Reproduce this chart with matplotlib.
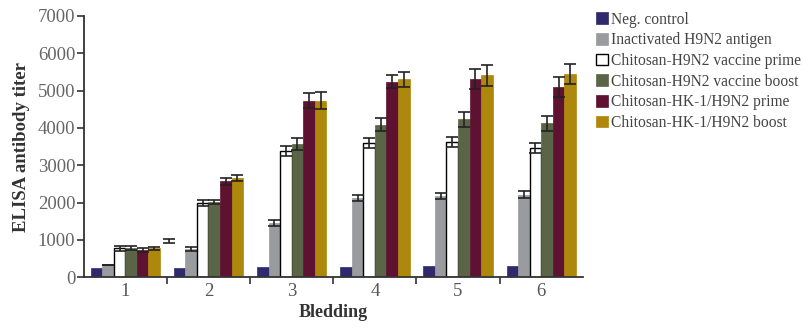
import numpy as np
import matplotlib
matplotlib.use('Agg')
import matplotlib.pyplot as plt

plt.rcParams['font.family'] = ['Liberation Serif', 'DejaVu Serif']

bleedings = ['1', '2', '3', '4', '5', '6']
groups = ['Neg. control', 'Inactivated H9N2 antigen', 'Chitosan-H9N2 vaccine prime',
          'Chitosan-H9N2 vaccine boost', 'Chitosan-HK-1/H9N2 prime', 'Chitosan-HK-1/H9N2 boost']

neg = [260, 240, 285, 285, 305, 305]
inact = [340, 760, 1450, 2130, 2175, 2210]
cs_prime = [770, 1990, 3385, 3600, 3625, 3465]
cs_boost = [780, 2015, 3565, 4090, 4235, 4120]
hk_prime = [735, 2570, 4730, 5240, 5300, 5085]
hk_boost = [770, 2670, 4730, 5300, 5410, 5445]

inact_err = [0, 50, 80, 80, 80, 90]
cs_prime_err = [70, 80, 130, 130, 140, 130]
cs_boost_err = [60, 50, 160, 180, 200, 190]
hk_prime_err = [60, 100, 200, 180, 270, 270]
hk_boost_err = [40, 80, 220, 200, 280, 280]

# stray error bar left of bleeding 2 in the original figure
stray_val = 975
stray_err = 50

values = [neg, inact, cs_prime, cs_boost, hk_prime, hk_boost]
errors = [None, inact_err, cs_prime_err, cs_boost_err, hk_prime_err, hk_boost_err]
colors = ['#2f2a6e', '#9a9b9f', 'white', '#5a6447', '#5e1131', '#ad880c']
edges = ['#2f2a6e', '#9a9b9f', 'black', '#5a6447', '#5e1131', '#ad880c']

fig = plt.figure(figsize=(8.05, 3.32), dpi=100)
ax = fig.add_axes([0.104, 0.165, 0.62, 0.787])

x = np.arange(len(bleedings))
w = 0.139
for i in range(6):
    pos = x + (i - 2.5) * w
    ax.bar(pos, values[i], width=w, color=colors[i], edgecolor=edges[i],
           linewidth=1.0 if i == 2 else 0.5, label=groups[i], zorder=2)
    if errors[i] is not None:
        ax.errorbar(pos, values[i], yerr=errors[i], fmt='none', ecolor='#222222',
                    elinewidth=1.2, capsize=4.5, capthick=1.2, zorder=3)

ax.errorbar([x[1] - 3.4 * w], [stray_val], yerr=[stray_err], fmt='none', ecolor='#222222',
            elinewidth=1.2, capsize=4.5, capthick=1.2, zorder=3)

ax.set_xlim(-0.5, 5.5)
ax.set_ylim(0, 7000)
ax.set_yticks(range(0, 7001, 1000))
ax.set_xticks(x)
ax.set_xticklabels(bleedings)
ax.set_xticks(np.arange(0.5, 5.5, 1), minor=True)
ax.tick_params(axis='x', which='major', length=0, pad=4, labelsize=13.5, labelcolor='#555555')
ax.tick_params(axis='x', which='minor', length=5, width=1.2, color='#333333')
ax.tick_params(axis='y', length=5, width=1.2, color='#333333', labelsize=13.5, labelcolor='#666666', pad=1)

for s in ['top', 'right']:
    ax.spines[s].set_visible(False)
for s in ['left', 'bottom']:
    ax.spines[s].set_linewidth(1.3)
    ax.spines[s].set_color('#333333')

ax.set_ylabel('ELISA antibody titer', fontsize=13.5, fontweight='bold', color='#333333', labelpad=6)
ax.set_xlabel('Bledding', fontsize=13, fontweight='bold', color='#333333', labelpad=3)

leg = fig.legend(loc='upper left', bbox_to_anchor=(0.733, 0.984), frameon=False,
                 fontsize=11.2, handlelength=0.78, handleheight=0.78, handletextpad=0.15,
                 labelspacing=0.3, borderaxespad=0)
for t in leg.get_texts():
    t.set_color('#444444')

plt.savefig('out.png', dpi=100)
